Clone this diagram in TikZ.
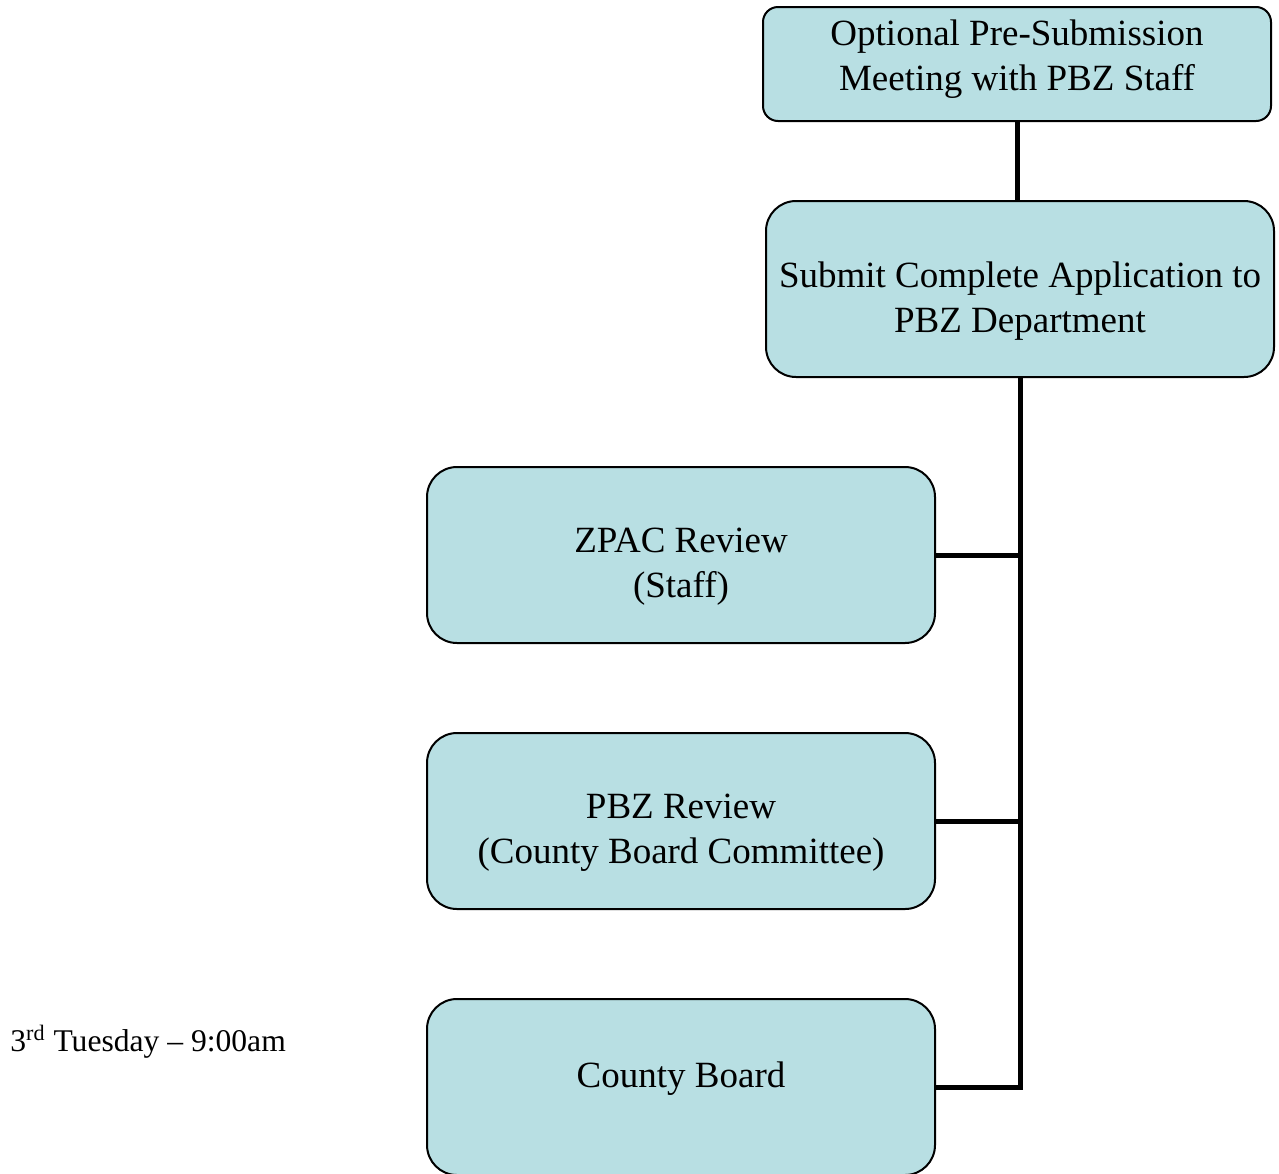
\documentclass[tikz,border=0pt]{standalone}
\usepackage{fontspec}
\setmainfont{Liberation Serif}
\definecolor{stagefill}{HTML}{B8DFE3}
\tikzset{
  stagebox/.style={draw, line width=1pt, fill=stagefill, align=center, minimum width=254pt, inner sep=0pt, font=\fontsize{18.5}{22.5}\selectfont},
  link/.style={line width=2.5pt}
}
\begin{document}
\begin{tikzpicture}[x=0.5pt,y=-0.5pt]
\useasboundingbox (0,0) rectangle (1279,1173);

\node [stagebox, minimum height=57pt, rounded corners=7.5pt, text height=40pt, text depth=14pt] (meet) at (1017,64) {Optional Pre-Submission\\Meeting with PBZ Staff};
\node [stagebox, minimum height=88pt, rounded corners=15pt, text height=50pt, text depth=7pt] (submit) at (1020,289) {Submit Complete Application to\\PBZ Department};

\node [stagebox, minimum height=88pt, rounded corners=15pt, text height=50pt, text depth=8pt] (zpac) at (681,555) {ZPAC Review\\(Staff)};
\node [stagebox, minimum height=88pt, rounded corners=15pt, text height=50pt, text depth=8pt] (review) at (681,821) {PBZ Review\\(County Board Committee)};
\node [stagebox, minimum height=88pt, rounded corners=15pt, text height=14pt, text depth=14pt] (board) at (681,1087) {County Board};

\node [anchor=base west, inner sep=0pt, font=\fontsize{15.8}{19}\selectfont] (tuesday) at (10,1051) {3\textsuperscript{rd} Tuesday -- 9:00am};

\draw [link] (meet.south) -- (meet.south |- submit.north);
\foreach \stage in {zpac,review,board}
  \draw [link] (submit.south) |- (\stage.east);

\end{tikzpicture}
\end{document}
